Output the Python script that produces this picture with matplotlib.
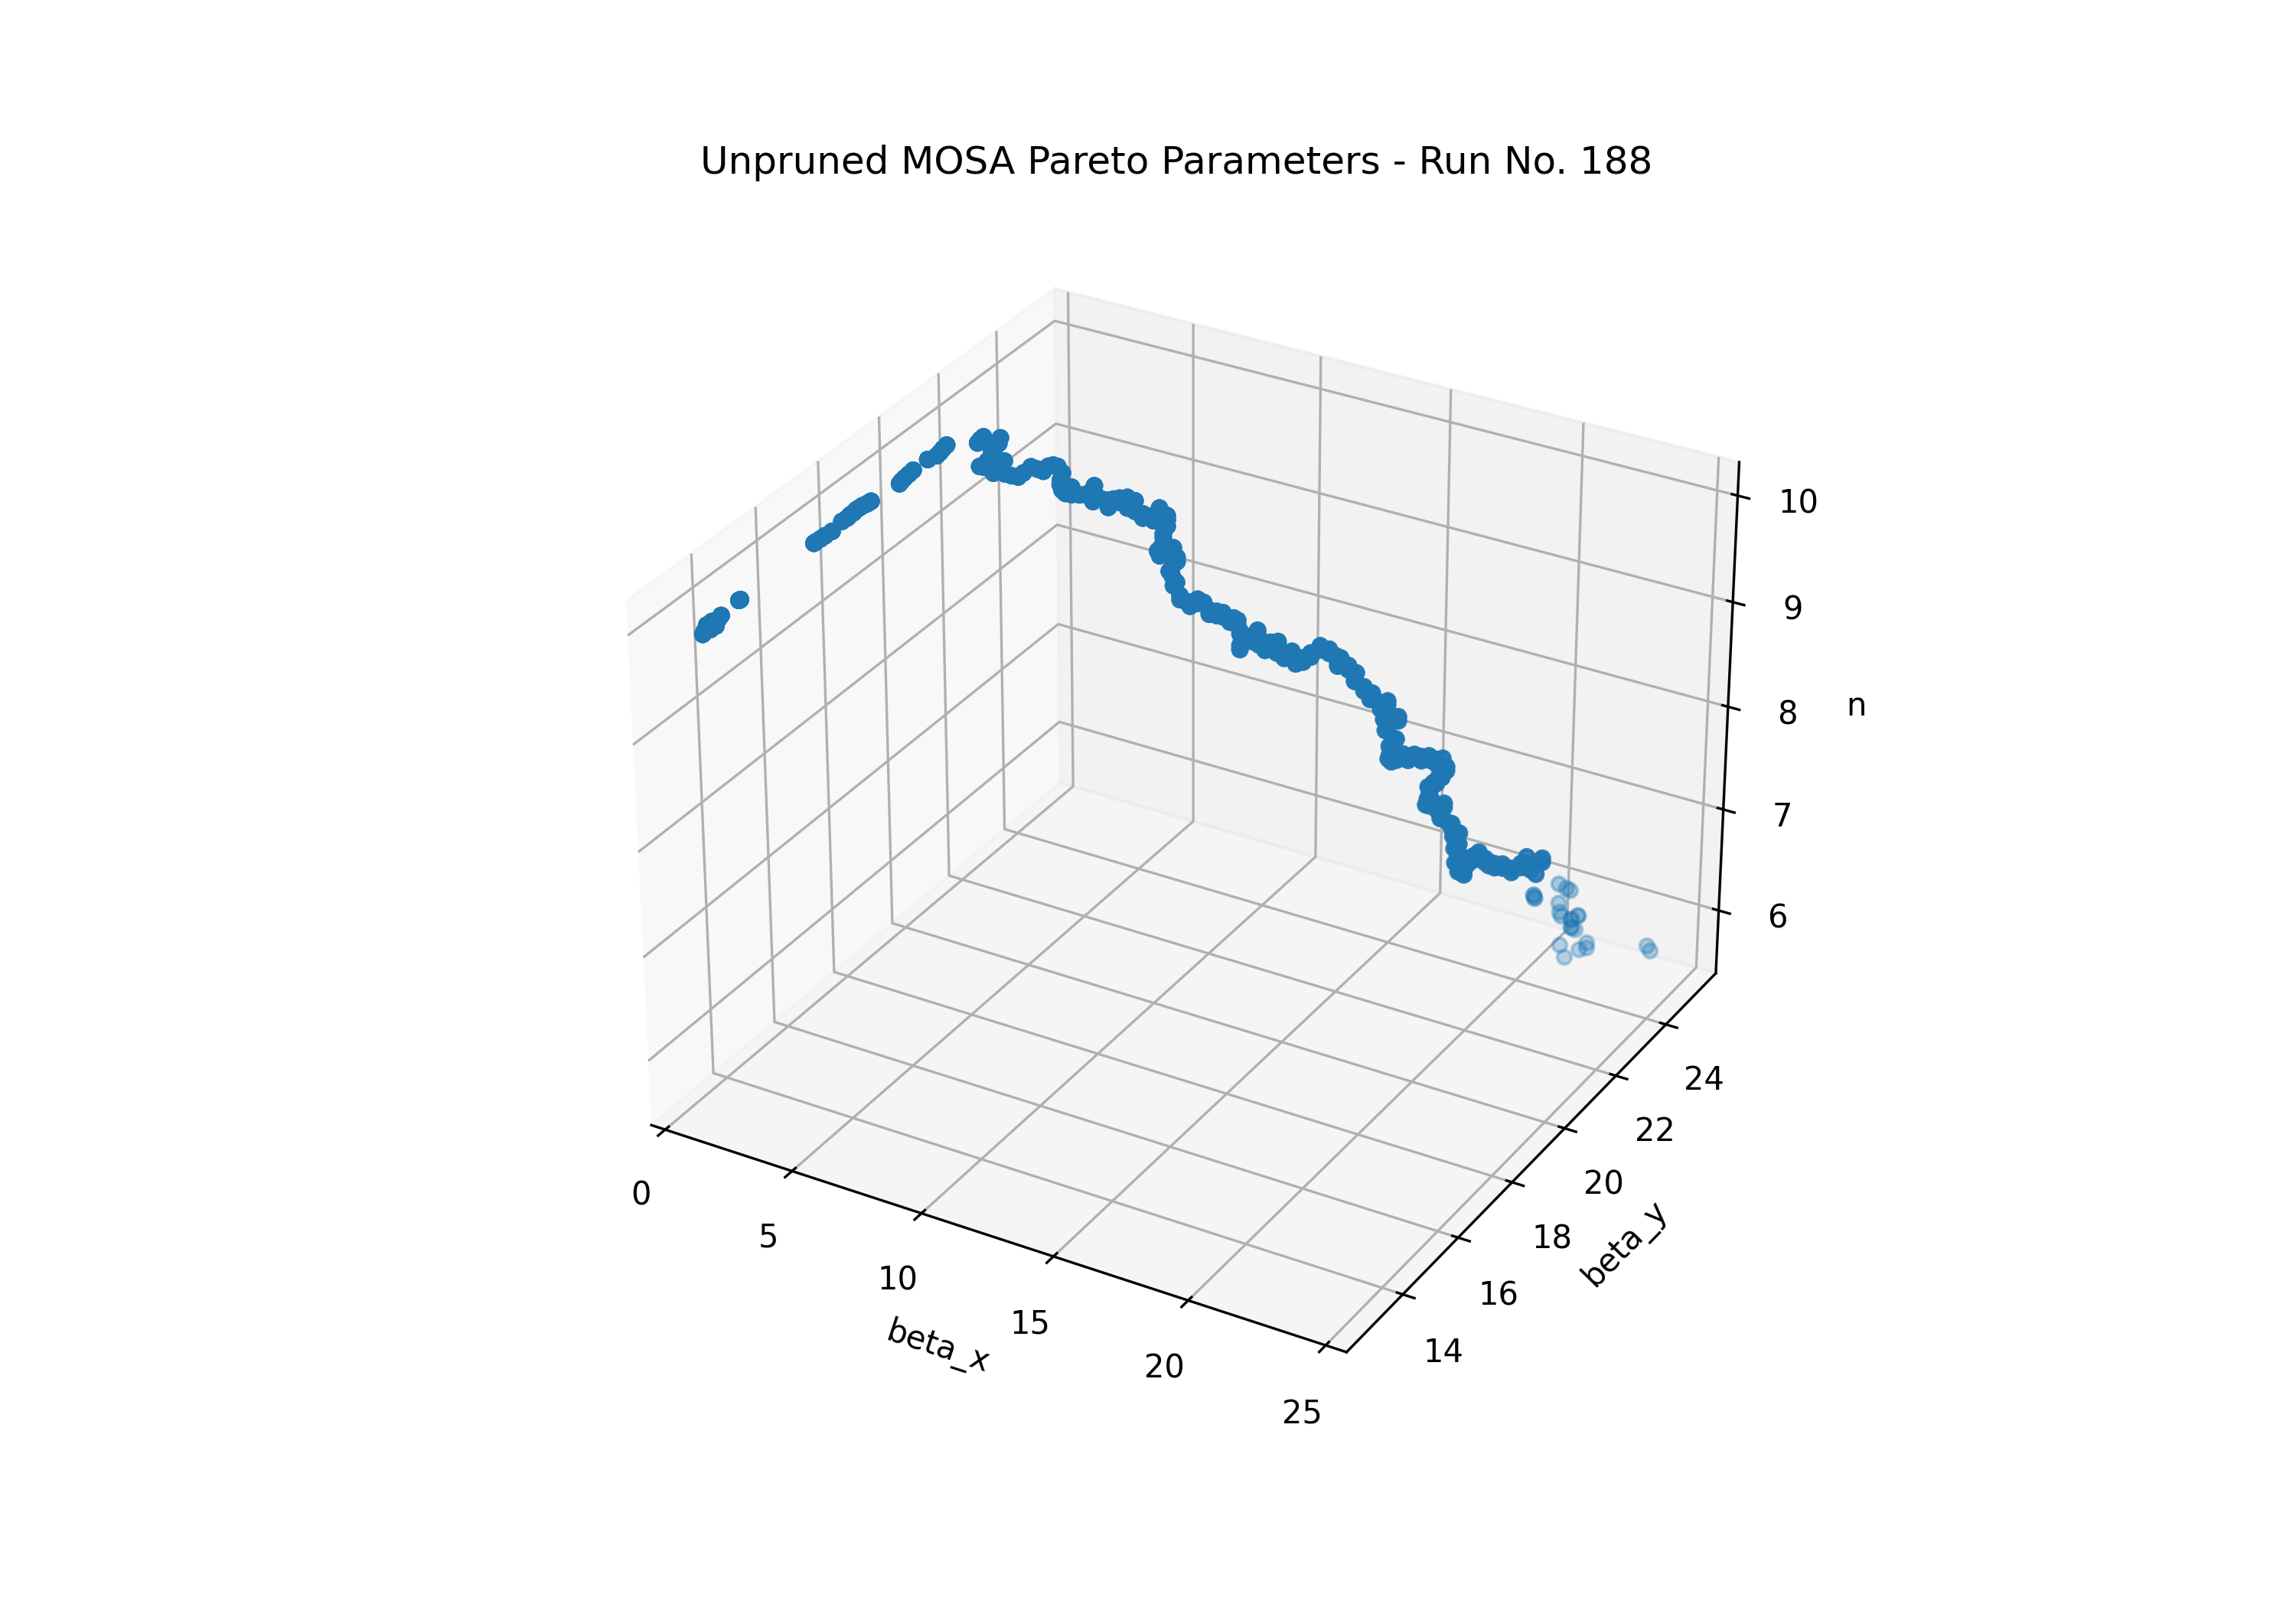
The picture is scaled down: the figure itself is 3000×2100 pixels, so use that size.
import matplotlib
matplotlib.use('Agg')
import matplotlib.pyplot as plt

# main run of the front
ribbon_x = [1.81,1.82,1.83,1.84,1.84,1.85,1.86,1.86,1.87,1.93,1.94,2.18,2.18,2.20,2.21,2.24,2.27,2.29,2.30,2.31,2.32,2.33,2.34,2.35,2.36,2.37,2.47,2.47,2.48,2.50,2.51,2.56,2.56,2.59,2.64,2.71,2.80,3.52,3.59,3.66,
3.79,4.06,4.02,3.93,3.84,4.14,4.01,3.65,3.74,3.56,3.88,4.01,4.15,4.34,4.53,4.69,4.92,5.10,5.28,5.44,5.58,5.72,5.85,5.80,5.78,5.84,5.94,6.12,6.35,6.57,6.80,6.75,6.98,7.21,7.37,7.55,7.78,8.01,7.78,8.01,
8.24,8.40,8.56,8.74,8.90,8.97,8.97,8.85,8.78,8.74,8.96,9.15,9.26,9.12,9.12,9.15,9.35,9.49,9.65,9.88,10.06,10.23,10.46,10.64,10.85,10.96,11.08,11.15,11.15,11.33,11.68,11.54,11.73,11.91,12.07,12.30,12.26,12.49,12.72,12.84,
13.06,13.29,13.57,13.84,14.03,14.10,14.19,14.43,14.66,14.62,14.90,15.15,15.09,15.32,15.62,15.51,15.51,15.74,15.95,15.63,15.80,15.69,15.71,15.76,15.93,16.11,16.27,16.46,16.67,16.90,17.11,17.32,17.44,17.21,17.05,16.99,16.94,16.88,16.83,17.11,
17.39,17.28,17.28,17.54,17.64,17.78,17.76,17.77,17.82,17.85,17.85,17.86,18.04,18.16,18.31,18.48,18.67,18.79,18.97,19.21,19.49,19.77,19.95,20.07,20.26,20.42,20.24,
6.12,6.57,6.80,7.21,7.55,7.78,8.24,8.56,8.74,8.97,8.85,8.66,9.04,9.26,9.00,9.27,9.35,9.65,9.88,10.23,10.46,10.64,10.96,11.08,11.15,11.15,11.33,11.68,11.91,12.07,12.30,12.49,12.72,13.06,13.29,13.57,13.84,14.10,14.19,14.43,14.62,14.90,15.09,15.15,15.62,15.39,15.63,15.95,15.55,15.92,15.81,15.83,15.64,16.11,16.27,16.67,16.90,17.11,17.44,17.33,17.17,16.87,17.05,16.95,17.39,17.16,17.40,17.66,17.76,17.90,17.65,17.89,17.70,17.97,17.73,17.98,18.04,18.16,18.31,18.48,18.67,18.79,18.97,19.21,19.49,19.77,20.07,20.42]
ribbon_y = [12.43,12.47,12.54,12.64,12.69,12.75,12.79,12.86,12.95,13.45,13.49,15.60,15.66,15.80,15.93,16.13,16.42,16.58,16.67,16.76,16.85,16.94,17.03,17.15,17.21,17.28,18.12,18.19,18.28,18.40,18.54,18.98,18.98,19.25,19.32,19.36,19.41,19.82,19.86,19.90,
19.97,20.12,20.10,20.05,20.00,20.17,20.09,19.89,19.94,19.84,20.02,20.09,20.17,20.24,20.29,20.33,20.39,20.44,20.49,20.53,20.57,20.60,20.64,20.62,20.62,20.63,20.66,20.71,20.77,20.83,20.89,20.88,20.94,21.00,21.04,21.09,21.15,21.21,21.15,21.21,
21.27,21.31,21.35,21.40,21.44,21.46,21.46,21.43,21.41,21.40,21.46,21.51,21.54,21.50,21.50,21.51,21.56,21.60,21.64,21.70,21.75,21.79,21.85,21.90,21.96,21.99,22.02,22.04,22.04,22.09,22.18,22.14,22.19,22.24,22.28,22.34,22.33,22.39,22.45,22.48,
22.54,22.60,22.68,22.75,22.80,22.82,22.84,22.90,22.97,22.95,23.03,23.10,23.08,23.14,23.22,23.19,23.19,23.25,23.31,23.22,23.27,23.24,23.24,23.26,23.30,23.35,23.39,23.44,23.50,23.56,23.61,23.67,23.70,23.64,23.60,23.58,23.57,23.55,23.54,23.61,
23.69,23.66,23.66,23.73,23.75,23.79,23.79,23.79,23.80,23.81,23.81,23.81,23.86,23.89,23.93,23.98,24.03,24.06,24.11,24.17,24.24,24.32,24.36,24.40,24.45,24.49,24.44,
20.71,20.83,20.89,21.00,21.09,21.15,21.27,21.35,21.40,21.46,21.43,21.40,21.46,21.54,21.50,21.51,21.56,21.64,21.70,21.79,21.85,21.90,21.99,22.02,22.04,22.04,22.09,22.18,22.24,22.28,22.34,22.39,22.45,22.54,22.60,22.68,22.75,22.82,22.84,22.90,22.95,23.03,23.08,23.10,23.22,23.19,23.22,23.31,23.22,23.27,23.24,23.24,23.26,23.35,23.39,23.50,23.56,23.61,23.70,23.64,23.60,23.58,23.55,23.54,23.69,23.66,23.66,23.73,23.75,23.79,23.79,23.79,23.80,23.81,23.81,23.81,23.86,23.89,23.93,23.98,24.03,24.06,24.11,24.17,24.24,24.32,24.40,24.49]
ribbon_n = [10.08,10.10,10.14,10.08,10.14,10.13,10.08,10.12,10.14,10.17,10.17,10.24,10.24,10.24,10.24,10.24,10.27,10.27,10.28,10.28,10.29,10.29,10.29,10.28,10.28,10.28,10.27,10.28,10.29,10.30,10.31,10.32,10.32,10.30,10.32,10.35,10.38,10.36,10.39,10.41,
10.35,10.38,10.33,10.30,10.25,10.16,10.13,10.13,10.18,10.14,10.06,10.09,10.04,10.02,10.01,10.05,10.11,10.09,10.07,10.12,10.13,10.12,10.06,10.00,9.95,9.90,9.87,9.86,9.86,9.87,9.88,9.80,9.83,9.75,9.83,9.84,9.85,9.82,9.75,9.72,
9.66,9.68,9.68,9.72,9.70,9.65,9.59,9.52,9.39,9.31,9.37,9.39,9.30,9.21,9.12,9.03,8.94,8.89,8.84,8.91,8.88,8.77,8.80,8.75,8.70,8.74,8.68,8.59,8.48,8.57,8.63,8.52,8.49,8.44,8.52,8.53,8.42,8.41,8.40,8.32,
8.38,8.43,8.46,8.47,8.41,8.31,8.39,8.32,8.25,8.17,8.12,8.06,8.00,7.98,7.99,7.90,7.81,7.83,7.80,7.70,7.63,7.55,7.47,7.40,7.42,7.44,7.46,7.48,7.46,7.43,7.44,7.45,7.33,7.27,7.21,7.16,7.11,7.05,6.99,7.00,
7.01,6.93,6.86,6.82,6.77,6.73,6.68,6.62,6.56,6.50,6.42,6.34,6.35,6.42,6.50,6.50,6.48,6.41,6.43,6.39,6.39,6.40,6.51,6.42,6.46,6.50,6.34,
9.93,9.86,9.95,9.82,9.80,9.80,9.70,9.64,9.76,9.69,9.48,9.35,9.37,9.26,9.16,9.07,8.90,8.88,8.87,8.81,8.76,8.79,8.70,8.72,8.62,8.44,8.53,8.59,8.48,8.48,8.49,8.37,8.44,8.34,8.39,8.50,8.43,8.35,8.35,8.28,8.21,8.08,8.04,8.02,7.95,7.90,7.83,7.84,7.70,7.63,7.55,7.47,7.42,7.48,7.42,7.42,7.47,7.40,7.37,7.27,7.21,7.16,7.05,6.99,6.97,6.93,6.86,6.82,6.74,6.73,6.68,6.62,6.56,6.50,6.42,6.34,6.31,6.46,6.46,6.54,6.44,6.45,6.39,6.43,6.35,6.44,6.38,6.46]

# scattered points at the far end of the front
far_x = [20.19,20.19,20.22,20.22,20.95,21.19,21.31,20.97,21.00,21.05,21.36,21.36,21.57,21.57,21.37,21.37,21.49,21.04,21.19,21.63,21.86,21.86,23.71,23.81]
far_y = [24.43,24.43,24.44,24.44,24.63,24.69,24.72,24.63,24.64,24.66,24.74,24.74,24.79,24.79,24.74,24.74,24.77,24.65,24.69,24.81,24.87,24.87,25.36,25.39]
far_n = [6.13,6.13,6.10,6.10,6.25,6.21,6.19,6.06,5.97,5.93,5.90,5.90,5.94,5.94,5.82,5.82,5.80,5.64,5.52,5.60,5.67,5.62,5.66,5.61]

y_ticks = [14, 16, 18, 20, 22, 24]
ribbon_overlap = 5  # the run is much denser than can be read, so its points stack

fig = plt.figure(figsize=(10, 7), dpi=300)
ax = fig.add_subplot(projection='3d')
ax.scatter(ribbon_x * ribbon_overlap + far_x,
           ribbon_y * ribbon_overlap + far_y,
           ribbon_n * ribbon_overlap + far_n)
ax.set_xlim(-0.55, 25.75, view_margin=0)
ax.set_ylim(12.02, 26.05, view_margin=0)
ax.set_zlim(5.37, 10.31, view_margin=0)
ax.set_yticks(y_ticks)
ax.set_xlabel('beta_x')
ax.set_ylabel('beta_y')
ax.set_zlabel('n')
ax.set_title('Unpruned MOSA Pareto Parameters - Run No. 188')
fig.savefig('out.png')
